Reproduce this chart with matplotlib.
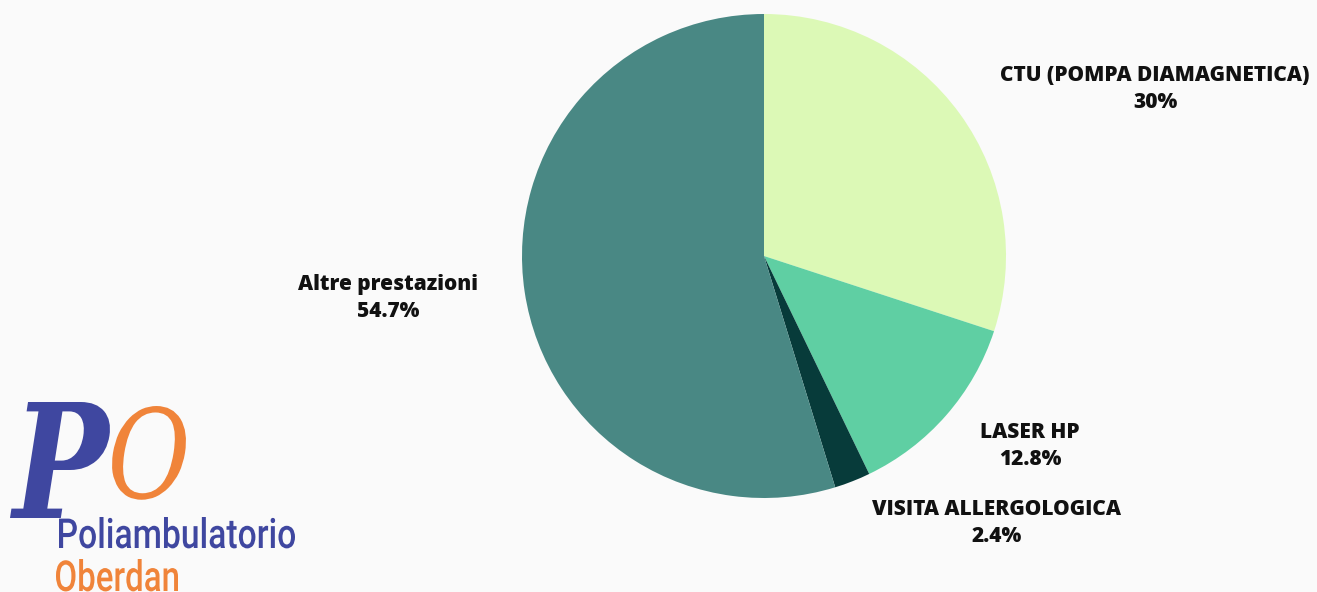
import matplotlib.pyplot as plt
from matplotlib.textpath import TextPath
from matplotlib.patches import PathPatch
from matplotlib.font_manager import FontProperties
from matplotlib.transforms import Affine2D

labels = ['CTU (POMPA DIAMAGNETICA)', 'LASER HP', 'VISITA ALLERGOLOGICA', 'Altre prestazioni']
values = [30, 12.8, 2.4, 54.7]
pct_text = ['30%', '12.8%', '2.4%', '54.7%']
colors = ['#dcf9b6', '#5fcfa3', '#073b3a', '#498884']

# label anchors in figure pixels (x, y from top)
label_pos = [(1155, 89), (1030, 446), (997, 523), (388, 298)]

W, H = 1317, 592
bg = '#fafafa'
fig = plt.figure(figsize=(W / 100, H / 100), dpi=100, facecolor=bg)

cx, cy, r = 764, 256, 242
ax = fig.add_axes([(cx - r) / W, (H - cy - r) / H, 2 * r / W, 2 * r / H])
ax.pie(values, colors=colors, startangle=90, counterclock=False, radius=1,
       wedgeprops={'linewidth': 0})
ax.set_xlim(-1, 1)
ax.set_ylim(-1, 1)
ax.set_aspect('equal')
ax.axis('off')

for lab, pct, (px, py) in zip(labels, pct_text, label_pos):
    fig.text(px / W, 1 - py / H, lab + '\n' + pct, ha='center', va='center',
             fontsize=15, fontweight='heavy', family=['Open Sans', 'DejaVu Sans'],
             color='#111111', linespacing=1.4)


# logo: text paths squeezed into a pixel box (x0, baseline, width, height)
pix = Affine2D().scale(1 / 100) + fig.dpi_scale_trans


def logo_text(s, x0, base, w, h, color, prop):
    tp = TextPath((0, 0), s, size=50, prop=prop)
    bb = tp.get_extents()
    t = Affine2D().translate(-bb.x0, 0).scale(w / bb.width, h / bb.y1).translate(x0, H - base)
    fig.patches.append(PathPatch(tp, transform=t + pix, facecolor=color,
                                 edgecolor='none', figure=fig))


blue = '#3f47a0'
orange = '#f0843a'
script = FontProperties(family='DejaVu Serif', style='italic', weight='bold')
sans = FontProperties(family='Roboto', weight='medium')
logo_text('P', 10, 518, 100, 116, blue, script)
logo_text('O', 112, 498, 74, 92, orange, FontProperties(family='DejaVu Serif', style='italic'))
logo_text('Poliambulatorio', 59, 548, 236, 31, blue, sans)
logo_text('Oberdan', 56, 591, 122, 32, orange, sans)

fig.savefig('out.png', dpi=100, facecolor=bg)
